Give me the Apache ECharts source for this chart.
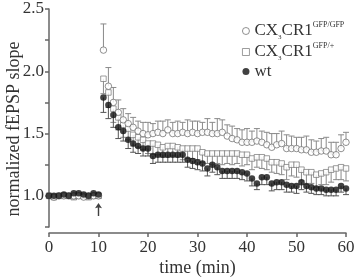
<!DOCTYPE html>
<html><head><meta charset="utf-8">
<script src="https://cdn.jsdelivr.net/npm/echarts@6/dist/echarts.min.js"></script>
<style>html,body{margin:0;padding:0;background:#fff}#c{width:355px;height:280px}</style>
</head><body><div id="c"></div>
<script>
const times = [0,1,2,3,4,5,6,7,8,9,10,11,12,13,14,15,16,17,18,19,20,21,22,23,24,25,26,27,28,29,30,31,32,33,34,35,36,37,38,39,40,41,42,43,44,45,46,47,48,49,50,51,52,53,54,55,56,57,58,59,60];
const gfpGfp = [1.00,0.99,1.00,1.00,1.00,1.00,1.00,0.99,1.00,1.00,1.00,
  2.17,1.88,1.75,1.67,1.61,1.58,1.55,1.52,1.50,1.49,1.50,1.51,1.50,1.53,1.50,1.50,1.51,1.50,1.51,1.50,1.51,1.51,1.50,1.50,1.51,1.48,1.46,1.45,1.43,1.43,1.43,1.44,1.43,1.41,1.39,1.41,1.42,1.38,1.38,1.38,1.37,1.37,1.35,1.35,1.36,1.36,1.33,1.33,1.38,1.43];
const gfpGfpErr = [0.02,0.02,0.02,0.02,0.02,0.02,0.02,0.02,0.02,0.02,0.02,
  0.21,0.15,0.12,0.10,0.09,0.08,0.08,0.08,0.09,0.10,0.08,0.09,0.10,0.08,0.09,0.10,0.08,0.11,0.09,0.10,0.08,0.11,0.09,0.12,0.10,0.09,0.10,0.09,0.10,0.11,0.09,0.10,0.09,0.10,0.11,0.09,0.10,0.11,0.10,0.09,0.10,0.11,0.10,0.09,0.10,0.11,0.10,0.10,0.11,0.08];
const gfpHet = [1.00,0.99,1.00,1.00,1.00,0.99,1.00,1.00,0.99,1.00,1.00,
  1.94,1.83,1.70,1.63,1.57,1.54,1.49,1.47,1.45,1.42,1.42,1.41,1.39,1.40,1.40,1.39,1.38,1.38,1.38,1.38,1.35,1.34,1.34,1.34,1.34,1.34,1.34,1.34,1.33,1.33,1.30,1.31,1.31,1.30,1.27,1.27,1.26,1.23,1.25,1.25,1.21,1.19,1.19,1.17,1.18,1.19,1.21,1.22,1.23,1.22];
const gfpHetErr = [0.02,0.02,0.02,0.02,0.02,0.02,0.02,0.02,0.02,0.02,0.02,
  0.12,0.12,0.11,0.10,0.10,0.09,0.09,0.08,0.08,0.08,0.09,0.08,0.08,0.09,0.08,0.08,0.09,0.08,0.08,0.09,0.08,0.08,0.09,0.08,0.09,0.08,0.09,0.08,0.09,0.08,0.09,0.08,0.09,0.09,0.08,0.09,0.09,0.10,0.09,0.10,0.09,0.10,0.09,0.10,0.09,0.10,0.10,0.09,0.10,0.10];
const wt = [1.00,1.00,1.00,1.01,1.00,1.02,1.02,1.01,1.00,1.02,1.01,
  1.79,1.73,1.65,1.55,1.52,1.45,1.42,1.40,1.38,1.38,1.32,1.33,1.33,1.33,1.33,1.33,1.33,1.29,1.28,1.27,1.26,1.22,1.25,1.23,1.20,1.20,1.20,1.20,1.19,1.18,1.14,1.10,1.15,1.15,1.10,1.11,1.11,1.09,1.08,1.08,1.11,1.08,1.07,1.06,1.06,1.05,1.05,1.05,1.08,1.06];
const wtErr = [0.02,0.02,0.02,0.02,0.02,0.02,0.02,0.02,0.02,0.02,0.02,
  0.12,0.11,0.10,0.09,0.08,0.07,0.07,0.06,0.06,0.06,0.06,0.06,0.06,0.06,0.06,0.06,0.06,0.06,0.06,0.06,0.06,0.06,0.06,0.06,0.06,0.06,0.06,0.06,0.06,0.06,0.06,0.05,0.06,0.06,0.06,0.06,0.06,0.06,0.05,0.06,0.06,0.05,0.05,0.05,0.05,0.05,0.05,0.05,0.05,0.05];
const arrowTime = 10;
const arrowValue = 0.89;
const xTicks = [0,10,20,30,40,50,60];
const yTickLabels = ['1.0','1.5','2.0','2.5'];
const names = ['CX3CR1 GFP/GFP','CX3CR1 GFP/+','wt'];

const serif = 'Liberation Serif';
const txt = '#333';
function pairs(v){ return times.map((t,i)=>[t, v[i]]); }
function triples(v,e){ return times.map((t,i)=>[t, v[i], e[i]]); }
function errSeries(v,e,dir,color){
  return {
    type:'custom', name:'err'+dir+color, silent:true, z:1,
    data: triples(v,e),
    renderItem:(params, api)=>{
      const x = api.value(0), y = api.value(1), er = api.value(2);
      const p0 = api.coord([x,y]);
      const p1 = api.coord([x, y + dir*er]);
      const cw = 3;
      return {type:'group', children:[
        {type:'line', shape:{x1:p0[0],y1:p0[1],x2:p1[0],y2:p1[1]}, style:{stroke:color,lineWidth:1}},
        {type:'line', shape:{x1:p1[0]-cw,y1:p1[1],x2:p1[0]+cw,y2:p1[1]}, style:{stroke:color,lineWidth:1}}
      ]};
    }
  };
}
const rich = {
  a:{fontFamily:serif,fontSize:17,color:txt,lineHeight:20},
  s:{fontFamily:serif,fontSize:7,color:txt,lineHeight:8,verticalAlign:'bottom'},
  p:{fontFamily:serif,fontSize:8,color:txt,lineHeight:6,verticalAlign:'top'}
};
const chart = echarts.init(document.getElementById('c'));
chart.setOption({
  animation:false,
  grid:{left:49,right:9,top:9,bottom:53,containLabel:false,outerBoundsMode:'none'},
  legend:{
    orient:'vertical', left:237, top:16, itemWidth:7, itemHeight:7, itemGap:1,
    itemStyle:{borderWidth:0.9},
    data:[{name:names[0],icon:'circle'},{name:names[1],icon:'rect'},{name:names[2],icon:'circle'}],
    formatter:(n)=>{
      if(n===names[0]) return '{a|CX}{s|3}{a|CR1}{p|GFP/GFP}';
      if(n===names[1]) return '{a|CX}{s|3}{a|CR1}{p|GFP/+}';
      return '{a|wt}';
    },
    textStyle:{rich:rich}
  },
  xAxis:{
    type:'value', min:0, max:60, interval:10, offset:6,
    name:'time (min)', nameLocation:'middle', nameGap:26, nameMoveOverlap:false,
    nameTextStyle:{fontFamily:serif,fontSize:18,color:txt,fontWeight:'normal'},
    axisLine:{lineStyle:{color:'#666',width:1.5}},
    axisTick:{length:4,lineStyle:{color:'#666',width:1.5}},
    axisLabel:{fontFamily:serif,fontSize:17,color:txt,margin:6,fontWeight:'normal',
      formatter:(v)=> xTicks.indexOf(v)>=0 ? String(v) : ''},
    splitLine:{show:false}
  },
  yAxis:{
    type:'value', min:0.75, max:2.5, interval:0.25,
    name:'normalized fEPSP slope', nameLocation:'middle', nameGap:26, nameMoveOverlap:false,
    nameTextStyle:{fontFamily:serif,fontSize:18,color:txt,fontWeight:'normal',padding:[0,22,0,0]},
    axisLine:{show:true,lineStyle:{color:'#666',width:1.5}},
    axisTick:{show:true,length:4,lineStyle:{color:'#666',width:1.5}},
    axisLabel:{fontFamily:serif,fontSize:17,color:txt,margin:5,fontWeight:'normal',
      formatter:(v)=>{ const s=v.toFixed(1); return (Math.abs(v*2-Math.round(v*2))<1e-6 && yTickLabels.indexOf(s)>=0) ? s : ''; }},
    splitLine:{show:false}
  },
  series:[
    errSeries(gfpGfp,gfpGfpErr,1,'#8a8a8a'),
    errSeries(gfpHet,gfpHetErr,-1,'#8a8a8a'),
    errSeries(wt,wtErr,-1,'#555'),
    {type:'scatter', name:names[1], data:pairs(gfpHet), symbol:'rect', symbolSize:5.5, z:3,
      itemStyle:{color:'#fff',borderColor:'#777',borderWidth:0.9}},
    {type:'scatter', name:names[0], data:pairs(gfpGfp), symbol:'circle', symbolSize:6.5, z:4,
      itemStyle:{color:'#fff',borderColor:'#666',borderWidth:0.9}},
    {type:'scatter', name:names[2], data:pairs(wt), symbol:'circle', symbolSize:6.5, z:5,
      itemStyle:{color:'#111'}},
    {type:'scatter', name:'arrow', data:[[arrowTime, arrowValue]], silent:true, z:6,
      symbol:'path://M5,0 L10,8 L6,7 L6,20 L4,20 L4,7 L0,8 Z', symbolSize:[7,13],
      itemStyle:{color:'#111'}}
  ]
});
</script></body></html>
